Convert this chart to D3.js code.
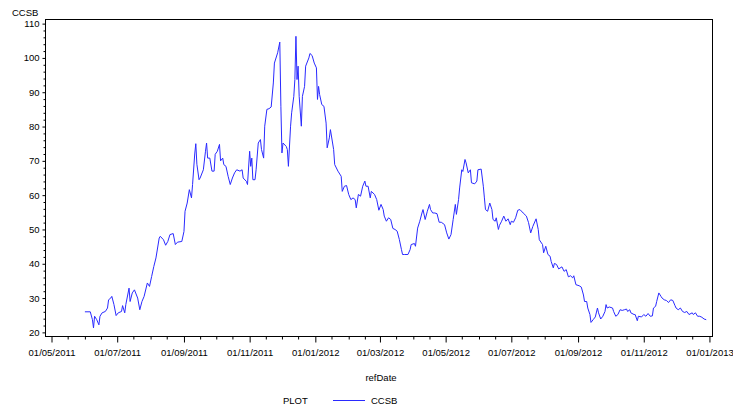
<!DOCTYPE html>
<html><head><meta charset="utf-8">
<script src="https://cdn.jsdelivr.net/npm/d3@7"></script>
<style>
html,body{margin:0;padding:0;background:#fff;}
text{font-family:"Liberation Sans",Arial,sans-serif;fill:#000;}
</style></head>
<body>
<svg id="chart" width="733" height="410"></svg>
<script>
const seriesName = "CCSB";
const xTitle = "refDate";
const legendTitle = "PLOT";
const yTicks = [20,30,40,50,60,70,80,90,100,110];
const xTickDates = ["2011-05-01","2011-07-01","2011-09-01","2011-11-01","2012-01-01","2012-03-01","2012-05-01","2012-07-01","2012-09-01","2012-11-01","2013-01-01"];
const dates = [
"2011-06-01","2011-06-06","2011-06-08","2011-06-09","2011-06-10","2011-06-12","2011-06-14","2011-06-15","2011-06-17","2011-06-20",
"2011-06-22","2011-06-23","2011-06-25","2011-06-26","2011-06-28","2011-06-30","2011-07-02","2011-07-05","2011-07-06","2011-07-08",
"2011-07-09","2011-07-12","2011-07-13","2011-07-15","2011-07-17","2011-07-20","2011-07-22","2011-07-24","2011-07-26","2011-07-29",
"2011-07-31","2011-08-02","2011-08-04","2011-08-06","2011-08-09","2011-08-10","2011-08-13","2011-08-15","2011-08-17","2011-08-19",
"2011-08-22","2011-08-24","2011-08-26","2011-08-30","2011-09-01","2011-09-02","2011-09-04","2011-09-06","2011-09-08","2011-09-09",
"2011-09-11","2011-09-12","2011-09-13","2011-09-15","2011-09-16","2011-09-19","2011-09-21","2011-09-22","2011-09-23","2011-09-25",
"2011-09-27","2011-09-29","2011-09-30","2011-10-02","2011-10-04","2011-10-05","2011-10-07","2011-10-08","2011-10-10","2011-10-12",
"2011-10-14","2011-10-16","2011-10-18","2011-10-20","2011-10-23","2011-10-25","2011-10-26","2011-10-29","2011-10-30","2011-11-01",
"2011-11-02","2011-11-03","2011-11-04","2011-11-06","2011-11-07","2011-11-09","2011-11-11","2011-11-12","2011-11-14","2011-11-15",
"2011-11-17","2011-11-19","2011-11-21","2011-11-23","2011-11-24","2011-11-27","2011-11-29","2011-11-30","2011-12-01","2011-12-02",
"2011-12-05","2011-12-06","2011-12-07","2011-12-09","2011-12-10","2011-12-12","2011-12-13","2011-12-14","2011-12-15","2011-12-16",
"2011-12-17","2011-12-19","2011-12-20","2011-12-22","2011-12-23","2011-12-26","2011-12-27","2011-12-29","2011-12-31","2012-01-02",
"2012-01-03","2012-01-04","2012-01-05","2012-01-07","2012-01-09","2012-01-11","2012-01-12","2012-01-14","2012-01-15","2012-01-18",
"2012-01-19","2012-01-22","2012-01-25","2012-01-26","2012-01-28","2012-01-30","2012-02-01","2012-02-03","2012-02-05","2012-02-07",
"2012-02-08","2012-02-10","2012-02-12","2012-02-14","2012-02-16","2012-02-17","2012-02-19","2012-02-21","2012-02-22","2012-02-25",
"2012-02-27","2012-02-29","2012-03-02","2012-03-04","2012-03-05","2012-03-07","2012-03-09","2012-03-11","2012-03-13","2012-03-15",
"2012-03-17","2012-03-19","2012-03-21","2012-03-22","2012-03-24","2012-03-27","2012-03-29","2012-03-30","2012-04-02","2012-04-03",
"2012-04-05","2012-04-07","2012-04-09","2012-04-10","2012-04-12","2012-04-14","2012-04-16","2012-04-17","2012-04-19","2012-04-21",
"2012-04-23","2012-04-25","2012-04-27","2012-04-30","2012-05-02","2012-05-04","2012-05-06","2012-05-08","2012-05-10","2012-05-11",
"2012-05-13","2012-05-14","2012-05-16","2012-05-17","2012-05-19","2012-05-20","2012-05-22","2012-05-24","2012-05-25","2012-05-28",
"2012-05-30","2012-05-31","2012-06-03","2012-06-05","2012-06-06","2012-06-07","2012-06-09","2012-06-11","2012-06-13","2012-06-14",
"2012-06-16","2012-06-17","2012-06-19","2012-06-20","2012-06-22","2012-06-24","2012-06-26","2012-06-28","2012-06-30","2012-07-01",
"2012-07-03","2012-07-05","2012-07-07","2012-07-09","2012-07-12","2012-07-15","2012-07-17","2012-07-19","2012-07-21","2012-07-24",
"2012-07-26","2012-07-27","2012-07-30","2012-07-31","2012-08-02","2012-08-04","2012-08-06","2012-08-07","2012-08-09","2012-08-10",
"2012-08-12","2012-08-14","2012-08-17","2012-08-19","2012-08-21","2012-08-23","2012-08-25","2012-08-27","2012-08-28","2012-08-30",
"2012-09-02","2012-09-04","2012-09-06","2012-09-07","2012-09-09","2012-09-10","2012-09-12","2012-09-13","2012-09-15","2012-09-17",
"2012-09-19","2012-09-20","2012-09-22","2012-09-24","2012-09-26","2012-09-27","2012-09-28","2012-09-30","2012-10-03","2012-10-04",
"2012-10-06","2012-10-08","2012-10-10","2012-10-12","2012-10-14","2012-10-16","2012-10-17","2012-10-19","2012-10-20","2012-10-23",
"2012-10-24","2012-10-26","2012-10-27","2012-10-30","2012-11-01","2012-11-03","2012-11-05","2012-11-07","2012-11-09","2012-11-10",
"2012-11-12","2012-11-13","2012-11-15","2012-11-17","2012-11-18","2012-11-20","2012-11-22","2012-11-24","2012-11-26","2012-11-28",
"2012-11-30","2012-12-01","2012-12-03","2012-12-05","2012-12-07","2012-12-09","2012-12-11","2012-12-13","2012-12-16","2012-12-17",
"2012-12-19","2012-12-21","2012-12-23","2012-12-25","2012-12-27","2012-12-29"
];
const values = [
26.0,26.0,23.7,21.3,24.7,23.7,22.2,24.7,25.7,26.1,
27.1,29.5,30.0,30.5,28.1,24.9,25.7,26.1,27.8,25.7,
28.1,32.9,29.0,31.5,32.4,30.0,26.6,29.0,30.5,34.4,
33.4,36.3,39.2,41.7,47.5,48.0,47.0,45.4,46.5,48.5,
48.8,45.6,46.3,46.5,49.4,55.3,57.7,61.6,59.2,63.1,
72.0,75.0,69.0,64.5,65.0,67.4,72.8,75.2,70.8,70.8,
67.0,67.0,71.9,72.8,74.8,70.0,70.8,68.9,68.4,65.5,
63.1,65.0,66.5,67.4,67.0,67.4,65.0,64.0,63.1,72.8,
68.4,70.8,64.5,64.5,67.4,75.2,76.2,73.3,70.8,80.1,
85.0,85.2,85.7,92.7,98.5,101.5,104.6,85.9,72.3,75.2,
74.2,73.3,68.4,80.1,84.0,88.8,93.7,106.3,93.7,97.6,
88.8,80.1,88.8,91.7,97.6,100.0,101.3,100.7,98.5,97.1,
87.9,91.7,89.3,86.4,85.9,81.0,73.8,76.7,79.1,73.3,
68.9,67.0,65.5,61.1,62.6,62.8,60.2,58.7,59.2,58.7,
56.3,60.2,59.7,62.6,64.1,62.6,62.6,59.2,61.1,60.2,
58.7,55.6,57.3,55.8,53.9,52.4,53.4,52.9,50.3,50.0,
49.5,47.1,44.1,42.7,42.7,42.7,44.1,45.6,45.9,45.1,
50.4,52.4,54.8,55.8,52.9,55.3,57.3,55.8,54.8,54.8,
54.6,52.1,52.1,51.4,49.0,47.2,48.5,52.9,57.3,54.4,
58.7,62.1,67.4,66.9,70.4,69.4,66.5,67.4,63.6,63.3,
64.1,67.4,67.6,62.6,59.2,55.8,55.3,57.7,55.8,52.9,
52.4,53.4,50.0,51.2,52.4,53.9,52.4,53.1,51.4,52.4,
52.1,53.4,55.6,55.8,54.8,53.9,52.0,49.0,50.9,53.1,
50.0,47.0,45.6,43.2,45.1,42.7,42.2,40.7,38.8,40.1,
39.8,38.5,39.1,37.8,38.3,36.2,36.5,35.9,36.5,33.9,
33.6,33.2,30.9,29.0,29.0,27.1,25.2,22.9,23.7,24.5,
27.1,25.7,23.9,24.7,26.1,28.1,27.1,27.4,27.1,26.1,
24.7,25.2,26.6,26.4,26.6,26.8,26.1,26.6,25.7,25.2,
25.2,23.4,24.7,24.5,25.2,24.7,25.5,24.7,24.8,27.1,
27.6,29.0,31.5,30.5,30.0,29.5,29.3,28.7,29.5,29.3,
27.8,27.1,26.6,27.1,26.1,25.8,26.1,25.2,25.7,25.2,
25.7,24.7,24.7,24.4,23.9,23.7
];

const parse = d3.timeParse("%Y-%m-%d");
const fmt = d3.timeFormat("%d/%m/%Y");
const data = dates.map((d,i)=>({date:parse(d), value:values[i]}));
const majors = xTickDates.map(parse);

const svg = d3.select("#chart");
const L = 45.5, R = 712.5, T = 19.5, B = 336.5;

const x = d3.scaleTime()
  .domain([new Date(2011,3,25,10), new Date(2013,0,3,20)])
  .range([L, R]);
const y = d3.scaleLinear().domain([18.8, 111.2]).range([B, T]);

// minor x ticks: 1st and 16th of each month, excluding majors
const minorX = [];
d3.timeMonth.range(majors[0], majors[majors.length-1]).forEach(m=>{
  const d16 = new Date(m.getFullYear(), m.getMonth(), 16);
  if (!majors.some(t=>+t===+m)) minorX.push(m);
  minorX.push(d16);
});
const minorY = d3.range(20, 111, 2).filter(v=>v%10!==0);

// frame
svg.append("rect").attr("x",L).attr("y",T).attr("width",R-L).attr("height",B-T)
  .attr("fill","none").attr("stroke","#000").attr("stroke-width",1);

// x axis
const gx = svg.append("g").attr("transform",`translate(0,${B})`);
gx.call(d3.axisBottom(x).tickValues(majors).tickFormat(fmt).tickSize(6).tickSizeOuter(0).tickPadding(7));
gx.select(".domain").remove();
gx.selectAll("line").attr("stroke","#000");
gx.selectAll("text").style("font-size","9.5px").style("font-family","'Liberation Sans',Arial,sans-serif");
const gxm = svg.append("g").attr("transform",`translate(0,${B})`);
gxm.call(d3.axisBottom(x).tickValues(minorX).tickFormat("").tickSize(3).tickSizeOuter(0));
gxm.select(".domain").remove();
gxm.selectAll("line").attr("stroke","#000");

// y axis
const gy = svg.append("g").attr("transform",`translate(${L},0)`);
gy.call(d3.axisLeft(y).tickValues(yTicks).tickSize(3).tickSizeOuter(0).tickPadding(3));
gy.select(".domain").remove();
gy.selectAll("line").attr("stroke","#000");
gy.selectAll("text").style("font-size","9.5px").style("font-family","'Liberation Sans',Arial,sans-serif");
const gym = svg.append("g").attr("transform",`translate(${L},0)`);
gym.call(d3.axisLeft(y).tickValues(minorY).tickFormat("").tickSize(2).tickSizeOuter(0));
gym.select(".domain").remove();
gym.selectAll("line").attr("stroke","#000");

// line
const line = d3.line().x(d=>x(d.date)).y(d=>y(d.value));
svg.append("path").datum(data).attr("d",line)
  .attr("fill","none").attr("stroke","#2a2aff").attr("stroke-width",1);

// titles
svg.append("text").attr("x",12).attr("y",16).style("font-size","9.5px").text(seriesName);
svg.append("text").attr("x",(L+R)/2+2).attr("y",381).attr("text-anchor","middle").style("font-size","9.5px").text(xTitle);

// legend
const lg = svg.append("g");
lg.append("text").attr("x",283).attr("y",404).style("font-size","9.5px").text(legendTitle);
lg.append("line").attr("x1",333).attr("x2",365).attr("y1",400.5).attr("y2",400.5).attr("stroke","#2a2aff").attr("stroke-width",1);
lg.append("text").attr("x",371).attr("y",404).style("font-size","9.5px").text(seriesName);
</script>
</body></html>
